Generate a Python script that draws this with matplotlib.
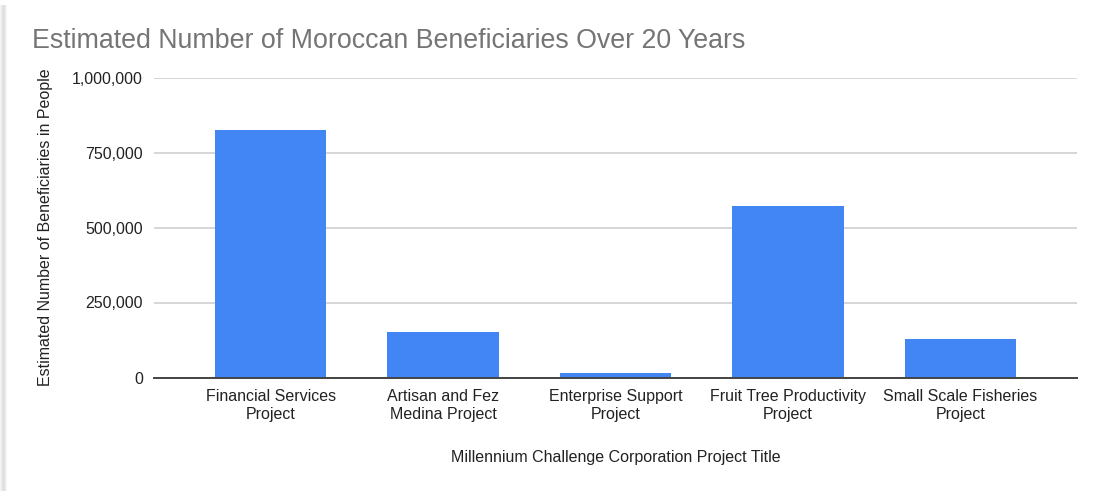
import matplotlib
matplotlib.use("Agg")
import matplotlib.pyplot as plt
from matplotlib.patches import Rectangle
from matplotlib.ticker import FuncFormatter

projects = [
    "Financial Services\nProject",
    "Artisan and Fez\nMedina Project",
    "Enterprise Support\nProject",
    "Fruit Tree Productivity\nProject",
    "Small Scale Fisheries\nProject",
]
beneficiaries = [824000, 151000, 14500, 572000, 129500]
y_ticks = [0, 250000, 500000, 750000, 1000000]

plt.rcParams['font.family'] = ['Liberation Sans', 'DejaVu Sans']

fig = plt.figure(figsize=(11.01, 4.91), dpi=100)
ax = fig.add_axes([154 / 1101, 1 - 377.5 / 491, (1077 - 154) / 1101, 300 / 491])

x = range(len(projects))
ax.bar(x, beneficiaries, width=0.647, color='#4285F4', zorder=3)

ax.set_xlim(-0.677, 4.677)
ax.set_ylim(0, 1000000)
ax.set_yticks(y_ticks)
ax.yaxis.set_major_formatter(FuncFormatter(lambda v, p: f"{int(v):,}"))
ax.set_xticks(list(x))
ax.set_xticklabels(projects, linespacing=1.3)

# light gridlines, dark baseline
ax.grid(axis='y', color='#d0d0d0', linewidth=1.2, zorder=0)
for side in ['top', 'right', 'left']:
    ax.spines[side].set_visible(False)
ax.spines['bottom'].set_color('#444444')
ax.spines['bottom'].set_linewidth(1.4)
ax.spines['bottom'].set_zorder(4)
ax.tick_params(axis='both', length=0, labelsize=11.5, colors='#222222')
ax.tick_params(axis='y', pad=8)
ax.tick_params(axis='x', pad=8)

ax.set_xlabel("Millennium Challenge Corporation Project Title", fontsize=11.5,
              color='#222222', labelpad=20)
ax.set_ylabel("Estimated Number of Beneficiaries in People", fontsize=11.5,
              color='#222222', labelpad=14)

fig.text(32 / 1101, 1 - 48 / 491, "Estimated Number of Moroccan Beneficiaries Over 20 Years",
         fontsize=19.3, color='#757575', ha='left', va='baseline')

# soft shadow along the left edge of the card
for i, c in enumerate(['#f4f4f4', '#ececec', '#e4e4e4', '#dedede', '#e2e2e2', '#ececec', '#f6f6f6']):
    fig.add_artist(Rectangle((i / 1101, 0), 1 / 1101, 1 - 5 / 491,
                             transform=fig.transFigure, color=c, lw=0))

fig.savefig("out.png", dpi=100)
